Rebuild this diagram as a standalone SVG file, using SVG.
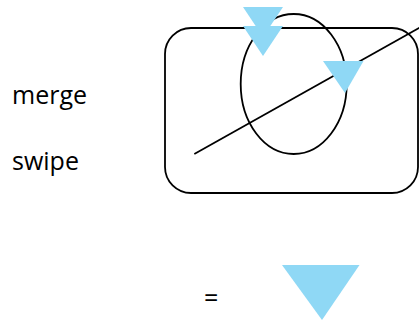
<svg xmlns="http://www.w3.org/2000/svg" width="419" height="322" viewBox="0 0 419 322">
<style>
.t{font-family:"Open Sans","Liberation Sans",sans-serif;font-size:25px;fill:#000}
.s{fill:none;stroke:#000;stroke-width:1.8}
.tri{fill:#8fd8f5}
</style>
<rect width="419" height="322" fill="#fff"/>
<g id="box"><rect class="s" x="165" y="28" width="253" height="165" rx="26" ry="26"/></g>
<g id="ellipse"><ellipse class="s" cx="293.7" cy="84" rx="53" ry="70"/></g>
<g id="connectors"><line class="s" x1="194.3" y1="154" x2="420" y2="27.5"/></g>
<g id="tri1"><polygon class="tri" points="243,7 283,7 263,37"/></g>
<g id="tri2"><polygon class="tri" points="243,26 283,26 263,56"/></g>
<g id="tri3"><polygon class="tri" points="323,61 363.5,61 345,93"/></g>
<g id="legend-tri"><polygon class="tri" points="282,265 359.5,265 322,320"/></g>
<g id="merge"><text class="t" x="12" y="104">merge</text></g>
<g id="swipe"><text class="t" x="12" y="170">swipe</text></g>
<g id="eq"><text class="t" x="204" y="307">=</text></g>
</svg>
